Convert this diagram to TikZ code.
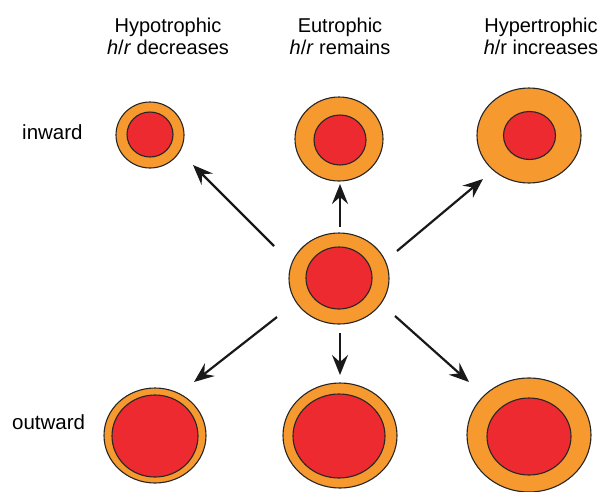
\documentclass[tikz,border=0pt]{standalone}
\usepackage{fontspec}
\setmainfont{Liberation Sans}
\usetikzlibrary{shapes.geometric,arrows.meta}
\definecolor{shellor}{RGB}{246,153,46}
\definecolor{corered}{RGB}{236,42,48}
\tikzset{
  outerell/.style={ellipse, draw=black!85, line width=1.1pt, fill=shellor, inner sep=0pt},
  innerell/.style={ellipse, draw=black!85, line width=1.1pt, fill=corered, inner sep=0pt},
  growarrow/.style={line width=2.2pt, black!90, -{Stealth[length=20pt,width=16pt,inset=7pt]}},
  headtxt/.style={font=\fontsize{20}{23}\selectfont, anchor=base, inner sep=0pt},
  sidetxt/.style={font=\fontsize{20.5}{23}\selectfont, anchor=base west, inner sep=0pt}
}
\begin{document}
\begin{tikzpicture}[x=1pt,y=-1pt]
\useasboundingbox (0,0) rectangle (607,491);
% headers
\node[headtxt] (h1a) at (168,32) {Hypotrophic};
\node[headtxt] (h1b) at (168,54.5) {\textit{h}/\textit{r} decreases};
\node[headtxt] (h2a) at (340,32) {Eutrophic};
\node[headtxt] (h2b) at (340,54.5) {\textit{h}/\textit{r} remains};
\node[headtxt] (h3a) at (541,32) {Hypertrophic};
\node[headtxt] (h3b) at (541,54.5) {\textit{h}/r increases};
\node[sidetxt] (inw) at (22,139) {inward};
\node[sidetxt] (outw) at (12,429) {outward};
% ellipses
\node[outerell, minimum width=68pt, minimum height=66pt] (tlo) at (150,135) {};
\node[innerell, minimum width=46pt, minimum height=45pt] (tli) at (150,134.5) {};
\node[outerell, minimum width=88pt, minimum height=84pt] (tmo) at (339,139) {};
\node[innerell, minimum width=52pt, minimum height=50pt] (tmi) at (340,140) {};
\node[outerell, minimum width=104pt, minimum height=95pt] (tro) at (529,135.5) {};
\node[innerell, minimum width=52pt, minimum height=48pt] (tri) at (529.5,135.5) {};
\node[outerell, minimum width=100pt, minimum height=91pt] (co) at (339,278.5) {};
\node[innerell, minimum width=66pt, minimum height=62pt] (ci) at (339,278) {};
\node[outerell, minimum width=102pt, minimum height=95pt] (blo) at (155,435.5) {};
\node[innerell, minimum width=86pt, minimum height=82pt] (bli) at (155,436) {};
\node[outerell, minimum width=114pt, minimum height=105pt] (bmo) at (340,435.5) {};
\node[innerell, minimum width=92pt, minimum height=84pt] (bmi) at (339,436) {};
\node[outerell, minimum width=124pt, minimum height=114pt] (bro) at (529,435) {};
\node[innerell, minimum width=84pt, minimum height=77pt] (bri) at (529,436.5) {};
% arrow ends
\coordinate (a1s) at (274,246); \coordinate (a1e) at (193,165);
\coordinate (a2s) at (340,227); \coordinate (a2e) at (340,184);
\coordinate (a3s) at (397,251); \coordinate (a3e) at (483,179);
\coordinate (a4s) at (277,317); \coordinate (a4e) at (194,382);
\coordinate (a5s) at (340,333); \coordinate (a5e) at (340,375);
\coordinate (a6s) at (395,316); \coordinate (a6e) at (469,382);
\draw[growarrow] (a1s) -- (a1e);
\draw[growarrow] (a2s) -- (a2e);
\draw[growarrow] (a3s) -- (a3e);
\draw[growarrow] (a4s) -- (a4e);
\draw[growarrow] (a5s) -- (a5e);
\draw[growarrow] (a6s) -- (a6e);
\end{tikzpicture}
\end{document}
